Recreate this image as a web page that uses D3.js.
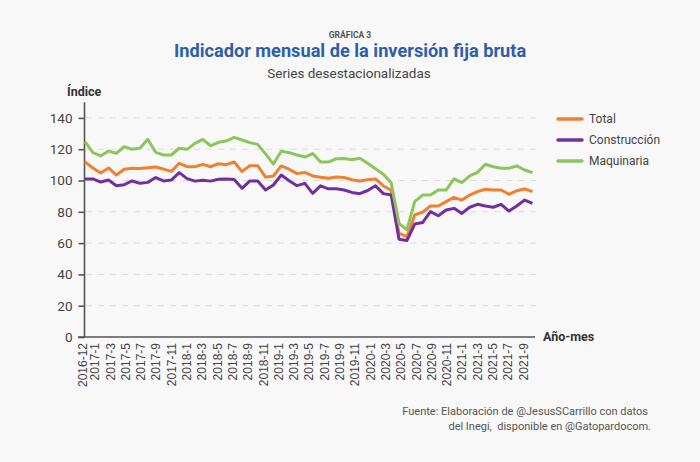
<!DOCTYPE html>
<html>
<head>
<meta charset="utf-8">
<script src="https://cdn.jsdelivr.net/npm/d3@7/dist/d3.min.js"></script>
<style>
  html, body { margin: 0; padding: 0; background: #f8f8f8; }
  svg { display: block; }
</style>
</head>
<body>
<svg id="chart" width="700" height="462"></svg>
<script>
// ---- Data ----
const months = [
  "2016-12",
  "2017-1","2017-2","2017-3","2017-4","2017-5","2017-6","2017-7","2017-8","2017-9","2017-10","2017-11","2017-12",
  "2018-1","2018-2","2018-3","2018-4","2018-5","2018-6","2018-7","2018-8","2018-9","2018-10","2018-11","2018-12",
  "2019-1","2019-2","2019-3","2019-4","2019-5","2019-6","2019-7","2019-8","2019-9","2019-10","2019-11","2019-12",
  "2020-1","2020-2","2020-3","2020-4","2020-5","2020-6","2020-7","2020-8","2020-9","2020-10","2020-11","2020-12",
  "2021-1","2021-2","2021-3","2021-4","2021-5","2021-6","2021-7","2021-8","2021-9"
];
const axisMonths = months.concat(["2021-10"]);
const tickLabels = [
  "2016-12","2017-1","2017-3","2017-5","2017-7","2017-9","2017-11",
  "2018-1","2018-3","2018-5","2018-7","2018-9","2018-11",
  "2019-1","2019-3","2019-5","2019-7","2019-9","2019-11",
  "2020-1","2020-3","2020-5","2020-7","2020-9","2020-11",
  "2021-1","2021-3","2021-5","2021-7","2021-9"
];
const total = [
  111.8,108.0,104.8,108.0,103.5,107.2,107.8,107.6,108.1,108.6,107.3,105.8,111.0,
  108.8,108.8,110.3,108.8,110.7,110.1,111.8,105.8,109.5,109.5,102.1,102.9,
  109.3,107.2,104.4,105.2,102.9,102.1,101.4,102.2,101.9,100.5,99.7,100.5,
  101.0,96.5,93.8,66.2,64.1,78.0,79.7,83.7,83.7,86.5,89.2,87.5,
  90.7,92.9,94.4,93.9,93.9,91.2,93.5,94.6,92.9
];
const construccion = [
  101.0,101.0,99.0,100.3,96.6,97.3,99.7,98.2,98.8,101.9,99.7,100.3,105.0,
  101.2,99.6,100.1,99.6,100.8,101.0,100.7,95.0,99.7,99.7,93.9,97.1,
  103.5,99.9,96.7,98.2,91.8,96.6,94.7,94.7,93.9,92.4,91.6,93.6,
  96.6,91.6,90.7,62.4,61.6,72.2,73.1,80.1,77.5,81.2,82.2,79.0,
  82.9,84.8,83.7,82.9,84.8,80.5,83.7,87.5,85.4
];
const maquinaria = [
  124.8,117.8,115.7,118.8,117.4,121.6,119.9,120.6,126.3,118.0,116.3,116.3,120.6,
  119.9,123.7,126.3,122.2,124.4,125.2,127.6,125.9,124.2,123.1,117.0,110.5,
  118.7,117.8,116.3,115.0,117.2,111.8,111.8,113.9,114.0,113.3,114.2,111.0,
  107.5,104.0,98.5,72.6,68.4,86.5,90.7,90.7,93.9,93.9,101.0,98.6,
  102.9,105.2,110.4,108.8,107.8,107.8,109.3,106.7,105.0
];
const seriesNames = ["Total","Construcción","Maquinaria"];
const seriesColors = ["#f08030","#7030a0","#8cc55c"];
const yTicks = [0,20,40,60,80,100,120,140];

// ---- Chart ----
const svg = d3.select("#chart");
const W = 700, H = 462;
svg.append("rect").attr("width", W).attr("height", H).attr("fill", "#f8f8f8");

const x = d3.scalePoint().domain(months).range([85, 532.5]);
const xAxisScale = d3.scalePoint().domain(axisMonths).range([86.9, 530.6]);
const y = d3.scaleLinear().domain([0, 150]).range([337, 102.25]);

// Gridlines
svg.append("g")
  .selectAll("line").data(yTicks.filter(d => d > 0)).join("line")
  .attr("x1", 86).attr("x2", 536)
  .attr("y1", d => y(d)).attr("y2", d => y(d))
  .attr("stroke", "#dcdcdc").attr("stroke-width", 1)
  .attr("stroke-dasharray", "6,6");

// Y axis
const yAxis = d3.axisLeft(y).tickValues(yTicks).tickSize(6).tickPadding(6);
const gy = svg.append("g").attr("transform", "translate(84.5,0)").call(yAxis);
gy.select(".domain").attr("stroke", "#555").attr("stroke-width", 1.6).attr("d", `M0,${y(150)}V${y(0)}`);
gy.selectAll(".tick line").attr("stroke", "#555").attr("stroke-width", 1.6);
gy.selectAll(".tick text").attr("fill", "#444").attr("font-size", 13.5)
  .attr("font-family", "Roboto, 'Liberation Sans', sans-serif");

// X axis
const xAxis = d3.axisBottom(xAxisScale).tickValues(tickLabels).tickSize(0).tickPadding(0);
const gx = svg.append("g").attr("transform", `translate(0,${y(0)})`).call(xAxis);
gx.select(".domain").attr("stroke", "#555").attr("stroke-width", 1.6).attr("d", "M78,0H535");
gx.selectAll(".tick text")
  .attr("fill", "#444").attr("font-size", 12)
  .attr("font-family", "'Liberation Sans', Arial, sans-serif")
  .attr("text-anchor", "end")
  .attr("transform", (d, i) => i === 0 ? "translate(-4.5,0) rotate(-90)" : "rotate(-90)")
  .attr("x", -6).attr("y", 0).attr("dy", "0.35em");

// Lines
const allSeries = [total, construccion, maquinaria];
const line = d3.line().x((d, i) => x(months[i])).y(d => y(d));
svg.append("g").selectAll("path").data(allSeries).join("path")
  .attr("d", d => line(d))
  .attr("fill", "none")
  .attr("stroke", (d, i) => seriesColors[i])
  .attr("stroke-width", 3)
  .attr("stroke-linejoin", "round");

// Legend
const lg = svg.append("g").selectAll("g").data(seriesNames).join("g")
  .attr("transform", (d, i) => `translate(558,${119 + i * 21})`);
lg.append("line").attr("x1", 0).attr("x2", 24).attr("y1", 0).attr("y2", 0)
  .attr("stroke", (d, i) => seriesColors[i]).attr("stroke-width", 3.5).attr("stroke-linecap", "round");
lg.append("text").attr("x", 31).attr("y", 0).attr("dy", "0.35em")
  .attr("font-size", 12).attr("fill", "#444")
  .attr("font-family", "Roboto, sans-serif")
  .text(d => d);

// Titles
const ff = "Roboto, 'Open Sans', sans-serif";
svg.append("text").attr("x", 350).attr("y", 38).attr("text-anchor", "middle")
  .attr("font-family", ff).attr("font-weight", 700).attr("font-size", 8.5).attr("fill", "#555")
  .text("GRÁFICA 3");
svg.append("text").attr("x", 350).attr("y", 57).attr("text-anchor", "middle")
  .attr("font-family", ff).attr("font-weight", 700).attr("font-size", 18.2).attr("fill", "#2f5ea8")
  .text("Indicador mensual de la inversión fija bruta");
svg.append("text").attr("x", 349).attr("y", 78).attr("text-anchor", "middle")
  .attr("font-family", ff).attr("font-size", 13.5).attr("fill", "#444")
  .text("Series desestacionalizadas");
svg.append("text").attr("x", 67).attr("y", 96)
  .attr("font-family", ff).attr("font-weight", 700).attr("font-size", 12.5).attr("fill", "#333")
  .text("Índice");
svg.append("text").attr("x", 543).attr("y", 341)
  .attr("font-family", ff).attr("font-weight", 700).attr("font-size", 12.5).attr("fill", "#333")
  .text("Año-mes");

// Source
const src = svg.append("text").attr("text-anchor", "end")
  .style("white-space", "pre")
  .attr("font-family", ff).attr("font-size", 11).attr("fill", "#555");
src.append("tspan").attr("x", 648).attr("y", 415).text("Fuente: Elaboración de @JesusSCarrillo con datos");
src.append("tspan").attr("x", 651).attr("y", 430).text("del Inegi,  disponible en @Gatopardocom.");
</script>
</body>
</html>
